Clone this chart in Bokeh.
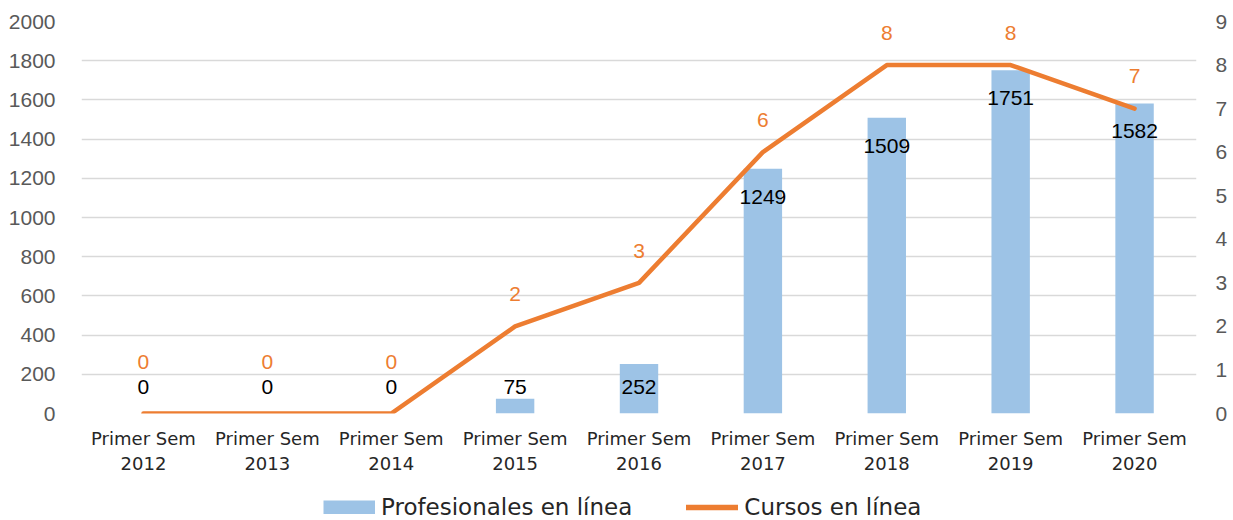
from bokeh.plotting import figure
from bokeh.layouts import column
from bokeh.models import Range1d, LinearAxis, FixedTicker, Legend, LegendItem, ColumnDataSource
from bokeh.embed import file_html
from bokeh.resources import INLINE
from bokeh.core.properties import value

categories = ["Primer Sem\n2012", "Primer Sem\n2013", "Primer Sem\n2014", "Primer Sem\n2015",
              "Primer Sem\n2016", "Primer Sem\n2017", "Primer Sem\n2018", "Primer Sem\n2019",
              "Primer Sem\n2020"]
profesionales = [0, 0, 0, 75, 252, 1249, 1509, 1751, 1582]
cursos = [0, 0, 0, 2, 3, 6, 8, 8, 7]
left_ticks = list(range(0, 2001, 200))
right_ticks = list(range(0, 10))
series_names = ["Profesionales en línea", "Cursos en línea"]

BAR = "#9DC3E6"
LINE = "#ED7D31"
GRID = "#D9D9D9"
TICK = "#595959"
TXT = "#262626"

xs = list(range(len(categories)))
bar_lab_y = [max(v - 143, 133) for v in profesionales]
line_lab_y = [max(v + 0.74, 1.19) for v in cursos]

src = ColumnDataSource(dict(x=xs, p=profesionales, c=cursos,
                            pl=[str(v) for v in profesionales],
                            cl=[str(v) for v in cursos],
                            py=bar_lab_y, cy=line_lab_y))

p = figure(width=1233, height=480, output_backend="svg", toolbar_location=None,
           x_range=Range1d(-0.5, 8.5), y_range=Range1d(0, 2000),
           min_border_left=81, min_border_right=37, min_border_top=21, min_border_bottom=67)
p.extra_y_ranges = {"right": Range1d(0, 9)}
p.outline_line_color = None
p.background_fill_color = "white"
p.border_fill_color = "white"

bars = p.vbar(x="x", top="p", width=0.31, source=src, fill_color=BAR, line_color=None)
line = p.line(x="x", y="c", source=src, y_range_name="right", line_color=LINE,
              line_width=4.5, line_cap="round", line_join="round")

p.text(x="x", y="py", text="pl", source=src, text_align="center", text_baseline="middle",
       text_font=value("Liberation Sans"), text_font_size="21px", text_color="black")
p.text(x="x", y="cy", text="cl", source=src, y_range_name="right", text_align="center",
       text_baseline="middle", text_font=value("Liberation Sans"), text_font_size="21px",
       text_color=LINE)

# axes
p.xaxis.ticker = FixedTicker(ticks=xs)
p.xaxis.major_label_overrides = {i: c for i, c in zip(xs, categories)}
p.xaxis.axis_line_color = None
p.xaxis.major_tick_line_color = None
p.xaxis.minor_tick_line_color = None
p.xaxis.major_label_text_font = "DejaVu Sans"
p.xaxis.major_label_text_font_size = "18px"
p.xaxis.major_label_text_color = TXT
p.xaxis.major_label_standoff = 8

p.yaxis.ticker = FixedTicker(ticks=left_ticks)
p.yaxis.axis_line_color = None
p.yaxis.major_tick_line_color = None
p.yaxis.minor_tick_line_color = None
p.yaxis.major_label_text_font = "Liberation Sans"
p.yaxis.major_label_text_font_size = "21px"
p.yaxis.major_label_text_color = TICK
p.yaxis.major_label_standoff = 20

ra = LinearAxis(y_range_name="right", ticker=FixedTicker(ticks=right_ticks))
ra.axis_line_color = None
ra.major_tick_line_color = None
ra.minor_tick_line_color = None
ra.major_label_text_font = "Liberation Sans"
ra.major_label_text_font_size = "21px"
ra.major_label_text_color = TICK
ra.major_label_standoff = 13
p.add_layout(ra, "right")

p.xgrid.grid_line_color = None
p.ygrid.grid_line_color = GRID
p.ygrid.grid_line_width = 1.5
p.ygrid.ticker = FixedTicker(ticks=left_ticks)

# legend strip below the chart (its frame is aligned with the chart frame)
leg = figure(width=1233, height=40, output_backend="svg", toolbar_location=None,
             x_axis_location=None, y_axis_location=None, min_border=0,
             x_range=Range1d(0, 1), y_range=Range1d(0, 1))
leg.outline_line_color = None
leg.background_fill_color = None
leg.border_fill_color = None
leg.xgrid.visible = False
leg.ygrid.visible = False
lb = leg.line(x=[-5, -4], y=[0, 0], line_color=BAR, line_width=14, line_cap="butt")
ll = leg.line(x=[-5, -4], y=[0, 0], line_color=LINE, line_width=5.5, line_cap="round")
legend = Legend(items=[LegendItem(label=series_names[0], renderers=[lb]),
                       LegendItem(label=series_names[1], renderers=[ll])],
                orientation="horizontal", location=(242, 0),
                glyph_width=52, glyph_height=14, label_standoff=6, spacing=54,
                label_text_font="DejaVu Sans", label_text_font_size="23px",
                label_text_color=TXT, border_line_color=None,
                background_fill_alpha=0, padding=0, margin=0)
leg.add_layout(legend, "center")

layout = column(p, leg, spacing=0)
open("out.html", "w").write(file_html(layout, INLINE))
